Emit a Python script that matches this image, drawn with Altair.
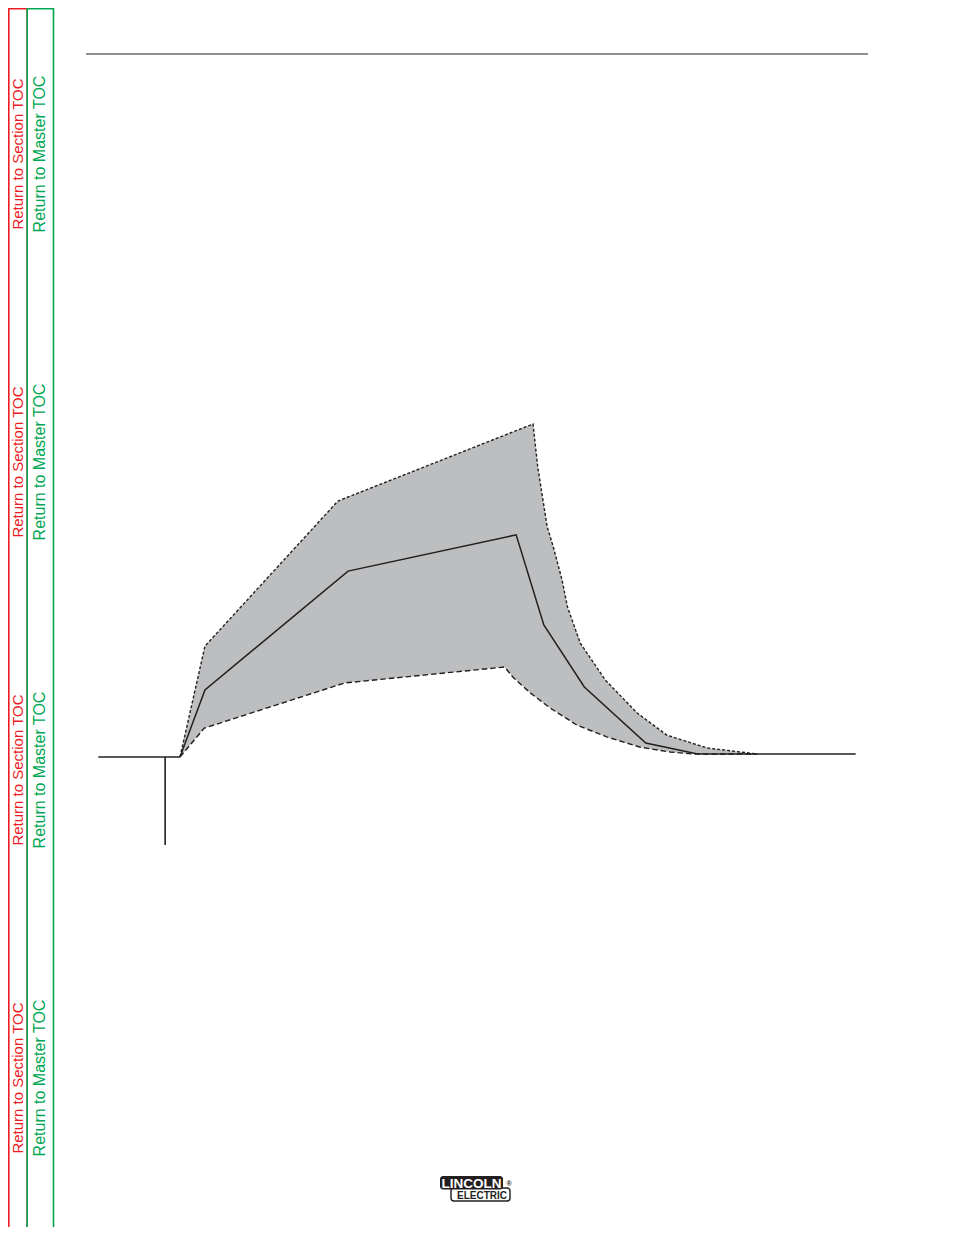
import altair as alt
import pandas as pd

# ---- data (time units, current units) ----
mean_t = [0.0, 3.7, 24.9, 49.8, 53.9, 59.9, 69.0, 76.7, 100.1]
mean_a = [0.0, 20.2, 56.0, 66.9, 39.8, 21.1, 4.2, 0.9, 0.9]

upper_t = [0.0, 3.7, 23.4, 52.3, 53.0, 54.4, 55.3, 56.6, 57.4, 59.3, 63.0, 67.7, 72.1, 78.1, 85.5]
upper_a = [0.0, 33.4, 77.1, 100.3, 87.3, 69.3, 63.3, 53.3, 45.2, 34.3, 23.2, 13.3, 6.6, 2.7, 0.9]

lower_t = [0.0, 3.6, 24.4, 48.1, 49.3, 51.9, 54.8, 58.8, 63.3, 68.1, 72.6, 76.0, 85.5]
lower_a = [0.0, 8.7, 22.3, 27.1, 24.1, 19.3, 14.8, 9.6, 6.0, 3.0, 1.5, 0.9, 0.9]

base_t = [-12.1, 0.0]
base_a = [0.0, 0.0]

stem_t = [-2.2]
stem_top = [0.0]
stem_bottom = [-26.5]

red_label = "Return to Section TOC"
green_label = "Return to Master TOC"
logo_top = "LINCOLN"
logo_bottom = "ELECTRIC"
logo_mark = "®"

# ---- layout ----
W, H = 938, 1219
FONT = "Liberation Sans"
INK = "#231f20"
GREY = "#bdbec0"
RED = "#ed1c24"
GREEN = "#00a651"
toc_y = [146, 454, 762, 1070]

xs = alt.Scale(domain=[-25.48, 113.48], nice=False, zero=False)
ys = alt.Scale(domain=[-141.57, 225.6], nice=False, zero=False)

mean_df = pd.DataFrame({"t": mean_t, "a": mean_a})
upper_df = pd.DataFrame({"t": upper_t, "a": upper_a, "b": [0.0] * len(upper_t)})
lower_df = pd.DataFrame({"t": lower_t, "a": lower_a, "b": [0.0] * len(lower_t)})
base_df = pd.DataFrame({"t": base_t, "a": base_a})
stem_df = pd.DataFrame({"t": stem_t, "a": stem_top, "a2": stem_bottom})
one = pd.DataFrame({"k": [0]})

X = alt.X("t:Q", scale=xs, axis=None)
Y = alt.Y("a:Q", scale=ys, axis=None)
YA = alt.Y("a:Q", scale=ys, axis=None, stack=None)

grey_area = alt.Chart(upper_df).mark_area(fill=GREY, fillOpacity=1, interpolate="linear").encode(
    x=X, y=YA, y2=alt.Y2("b:Q"))
white_area = alt.Chart(lower_df).mark_area(fill="white", fillOpacity=1, interpolate="linear").encode(
    x=X, y=YA, y2=alt.Y2("b:Q"))
upper_line = alt.Chart(upper_df).mark_line(color=INK, strokeWidth=1.4, strokeDash=[3, 2]).encode(
    x=X, y=Y, order="t:Q")
lower_line = alt.Chart(lower_df).mark_line(color=INK, strokeWidth=1.4, strokeDash=[5.5, 3]).encode(
    x=X, y=Y, order="t:Q")
mean_line = alt.Chart(mean_df).mark_line(color=INK, strokeWidth=1.5).encode(
    x=X, y=Y, order="t:Q")
base_line = alt.Chart(base_df).mark_line(color=INK, strokeWidth=1.6).encode(
    x=X, y=Y, order="t:Q")
stem = alt.Chart(stem_df).mark_rule(color=INK, strokeWidth=1.6).encode(
    x=X, y=Y, y2="a2:Q")

# page decoration
header = alt.Chart(one).mark_rule(color=INK, strokeWidth=1.1).encode(
    x=alt.value(78), x2=alt.value(860), y=alt.value(46))
red_box = alt.Chart(one).mark_rect(fill="transparent", stroke=RED, strokeWidth=1.6).encode(
    x=alt.value(0.8), x2=alt.value(19.2), y=alt.value(0.8), y2=alt.value(1224.5))
green_box = alt.Chart(one).mark_rect(fill="transparent", stroke=GREEN, strokeWidth=1.6).encode(
    x=alt.value(19.2), x2=alt.value(45.5), y=alt.value(0.8), y2=alt.value(1224.5))

texts = []
for yy in toc_y:
    texts.append(alt.Chart(pd.DataFrame({"s": [red_label]})).mark_text(
        angle=270, font=FONT, fontSize=15, color=RED, align="center", baseline="middle").encode(
        text="s:N", x=alt.value(10), y=alt.value(yy)))
    texts.append(alt.Chart(pd.DataFrame({"s": [green_label]})).mark_text(
        angle=270, font=FONT, fontSize=16, color=GREEN, align="center", baseline="middle").encode(
        text="s:N", x=alt.value(31.5), y=alt.value(yy)))

elec_box = alt.Chart(one).mark_rect(fill="white", stroke=INK, strokeWidth=1.4, cornerRadius=3).encode(
    x=alt.value(443), x2=alt.value(502), y=alt.value(1180), y2=alt.value(1193))
linc_box = alt.Chart(one).mark_rect(fill=INK, cornerRadius=3).encode(
    x=alt.value(432), x2=alt.value(495), y=alt.value(1168), y2=alt.value(1181.5))
linc_text = alt.Chart(pd.DataFrame({"s": [logo_top]})).mark_text(
    font=FONT, fontSize=13.5, fontWeight="bold", color="white", align="center", baseline="middle").encode(
    text="s:N", x=alt.value(463.5), y=alt.value(1175.5))
elec_text = alt.Chart(pd.DataFrame({"s": [logo_bottom]})).mark_text(
    font=FONT, fontSize=10, fontWeight="bold", color=INK, align="center", baseline="middle").encode(
    text="s:N", x=alt.value(474), y=alt.value(1187.5))
reg_text = alt.Chart(pd.DataFrame({"s": [logo_mark]})).mark_text(
    font=FONT, fontSize=7, fontWeight="bold", color=INK, align="center", baseline="middle").encode(
    text="s:N", x=alt.value(501), y=alt.value(1176))

chart = alt.layer(
    grey_area, white_area, upper_line, lower_line, mean_line, base_line, stem,
    header, red_box, green_box, *texts, elec_box, linc_box, linc_text, elec_text, reg_text
).properties(
    width=W, height=H, padding=0, autosize="none", background="white"
).configure_view(stroke=None)

chart.save("out.html", embed_options={"renderer": "svg", "actions": False})
